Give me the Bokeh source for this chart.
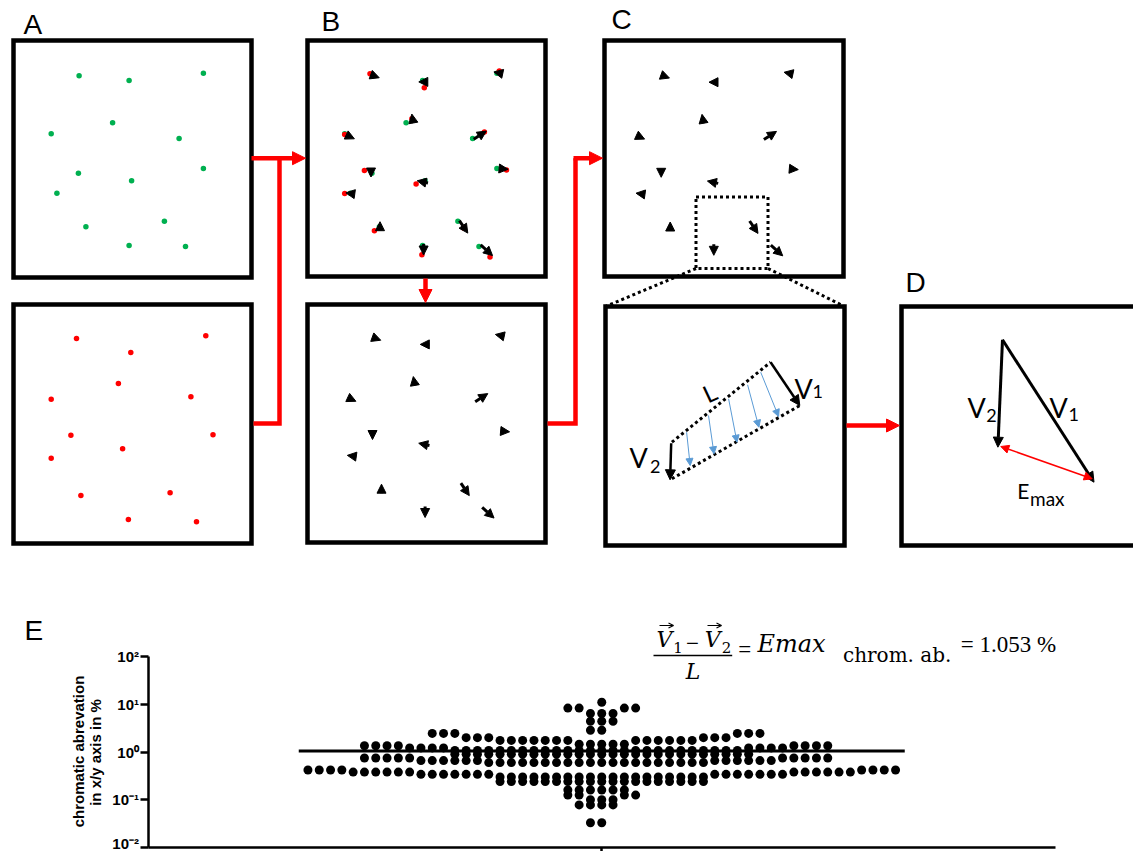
import math
from bokeh.plotting import figure
from bokeh.models import (Range1d, LinearScale, LogScale, Arrow, NormalHead, OpenHead,
                          FixedTicker, CustomJSTickFormatter, ColumnDataSource,
                          LogAxis, LinearAxis)
from bokeh.core.properties import value
from bokeh.embed import file_html
from bokeh.resources import INLINE

# ---------------------------------------------------------------- data
# Panel A (top): green bead positions, px relative to the panel corner
green_x = [66.1, 116.1, 190.4, 99.6, 38.2, 166.1, 65.4, 118.6, 190.4, 43.9, 72.9, 151.4, 116.1, 172.5]
green_y = [36.0, 40.7, 33.4, 83.0, 94.0, 98.7, 133.4, 141.0, 128.7, 153.4, 187.0, 181.4, 205.7, 206.7]
# Panel A (bottom): red bead positions
red_x = [63.5, 192.8, 117.8, 105.4, 38.2, 177.9, 57.9, 200.0, 109.6, 38.2, 67.9, 157.1, 115.4, 183.5]
red_y = [34.0, 31.3, 48.0, 79.0, 94.7, 92.3, 130.7, 130.3, 144.3, 153.7, 191.0, 188.3, 215.0, 217.3]
# displacement vectors (centre, direction in degrees, drawn length; 0 = head only)
arrow_x = [60.7, 109.0, 184.0, 98.3, 36.0, 165.7, 56.7, 189.3, 108.3, 36.0, 65.7, 149.3, 109.3, 172.3]
arrow_y = [36.7, 42.4, 33.4, 79.0, 97.4, 95.7, 133.0, 129.4, 142.4, 154.0, 186.7, 187.4, 210.0, 210.7]
arrow_angle = [-20, 180, 168, 100, -25, 33, -90, -5, 168, 172, 90, -56, -90, -42]
arrow_len = [0, 0, 0, 0, 0, 15, 0, 0, 11, 0, 0, 15, 11, 16]

# zoomed panel: V1, V2 and the vectors along L (image px)
v1_c = [(770.1, 361.7), (799.3, 405.0)]
v2_c = [(670.7, 442.7), (669.6, 479.3)]
edge_top = [(671.4, 441.7), (770.1, 361.7)]
edge_bot = [(671.4, 478.3), (799.3, 405.0)]
blue_x0 = [686.1, 708.0, 728.1, 747.1, 760.2]
blue_y0 = [431.7, 415.0, 398.3, 384.3, 371.7]
blue_x1 = [689.7, 713.5, 736.5, 758.4, 778.1]
blue_y1 = [465.0, 453.3, 441.7, 426.7, 416.0]
# panel D: vector triangle
d_apex = (1002.0, 339.3)
d_v1_end = (1093.5, 481.7)
d_v2_end = (997.4, 446.7)
d_emax = [(1000.3, 446.0), (1091.7, 478.3)]

# panel E: scatter dot plot rows of (value %, count), inner points first
swarm_rows = [
    [(11.0, 1)],
    [(6.4, 3), (8.3, 4)],
    [(4.4, 3)],
    [(2.85, 2)],
    [(1.45, 5), (1.75, 13), (2.0, 6), (2.45, 6)],
    [(1.08, 26), (1.22, 8), (1.35, 8)],
    [(0.90, 27)],
    [(0.60, 20), (0.66, 12), (0.75, 10)],
    [(0.30, 19), (0.34, 14), (0.38, 12), (0.42, 8)],
    [(0.24, 19)],
    [(0.16, 6)],
    [(0.10, 3), (0.125, 4)],
    [(0.078, 4)],
    [(0.033, 2)],
]
mean_value = 1.053
y_ticks = [0.01, 0.1, 1, 10, 100]
y_title = ["chromatic abrevation", "in x/y axis in %"]

# ---------------------------------------------------------------- layout
W, H = 1133, 851
RED = "#FF0000"
GREEN = "#00B050"
BLUE = "#5B9BD5"
HEAD = 9
XPX = (147.5, 1055.0)   # canvas x of the dot-plot x-axis ends (data 0 and 2)
YPX = (656.0, 847.0)    # canvas y of 10^2 and 10^-2
upp = 2.0 / (XPX[1] - XPX[0])
dec = (YPX[1] - YPX[0]) / 4.0

p = figure(width=W, height=H,
           x_range=Range1d(-XPX[0] * upp, 2 + (W - XPX[1]) * upp),
           y_range=Range1d(10 ** (-2 - (H - YPX[1]) / dec), 10 ** (2 + YPX[0] / dec)),
           output_backend="svg", toolbar_location=None,
           x_axis_location=None, y_axis_location=None, min_border=0,
           outline_line_color=None)
p.y_scale = LogScale()
p.grid.visible = False
p.extra_x_ranges = {"img": Range1d(0, W)}
p.extra_y_ranges = {"img": Range1d(H, 0)}
p.extra_x_scales = {"img": LinearScale()}
p.extra_y_scales = {"img": LinearScale()}
IMG = dict(x_range_name="img", y_range_name="img")

boxes = {  # line-centre rectangles: left, top, right, bottom
    "A": (13, 40, 251, 277), "B": (307, 40, 545, 276), "C": (604, 40, 843, 276),
    "A2": (13, 304, 251, 543), "B2": (307, 304, 545, 542), "C2": (605, 306, 844, 545),
    "D": (901, 306, 1170, 545),
}
origin_A = (12.5, 39.3)
origin_A2 = (12.5, 304.0)
origin_Bdots = (306.0, 39.3)
origin_Barrows = (313.8, 39.0)
origin_B2arrows = (315.3, 301.5)
origin_Carrows = (604.0, 39.3)

bl = list(boxes.values())
p.quad(left=[b[0] for b in bl], top=[b[1] for b in bl], right=[b[2] for b in bl],
       bottom=[b[3] for b in bl], fill_color=None, line_color="black", line_width=4.5,
       line_join="miter", **IMG)

# beads
for org, xs, ys, col in [(origin_A, green_x, green_y, GREEN), (origin_A2, red_x, red_y, RED),
                         (origin_Bdots, green_x, green_y, GREEN), (origin_Bdots, red_x, red_y, RED)]:
    p.scatter(x=[org[0] + v for v in xs], y=[org[1] + v for v in ys], size=5.5,
              fill_color=col, line_color=None, **IMG)


def vec_source(ox, oy):
    d = dict(x0=[], y0=[], x1=[], y1=[])
    for cx, cy, ang, ln in zip(arrow_x, arrow_y, arrow_angle, arrow_len):
        L = ln if ln > 0 else HEAD
        dx, dy = math.cos(math.radians(ang)), -math.sin(math.radians(ang))
        d["x0"].append(ox + cx - dx * L / 2)
        d["y0"].append(oy + cy - dy * L / 2)
        d["x1"].append(ox + cx + dx * L / 2)
        d["y1"].append(oy + cy + dy * L / 2)
    return ColumnDataSource(d)


for org in (origin_Barrows, origin_B2arrows, origin_Carrows):
    p.add_layout(Arrow(source=vec_source(*org), x_start="x0", y_start="y0",
                       x_end="x1", y_end="y1", line_color="black", line_width=3,
                       end=NormalHead(size=HEAD, fill_color="black", line_color="black",
                                      line_width=1), **IMG))

# red workflow connectors
p.multi_line(xs=[[253, 279, 279], [547, 575, 575]], ys=[[423, 423, 157.7], [423, 423, 157.7]],
             line_color=RED, line_width=4.5, line_join="miter", **IMG)
for (xa, ya, xb, yb) in [(251, 157.7, 305, 157.7), (425, 278, 425, 302),
                         (573, 157.7, 602, 157.7), (846, 425, 899, 425)]:
    p.add_layout(Arrow(x_start=xa, y_start=ya, x_end=xb, y_end=yb, line_color=RED,
                       line_width=4.5, end=NormalHead(size=13, fill_color=RED,
                                                      line_color=RED, line_width=1), **IMG))

# dotted zoom window
p.quad(left=[695.5], right=[767.5], top=[196.5], bottom=[268.0], fill_color=None,
       line_color="black", line_width=3, line_dash="3 3", **IMG)
p.multi_line(xs=[[695.5, 605], [767.5, 844]], ys=[[268, 306], [268, 306]],
             line_color="black", line_width=3, line_dash="3 3", **IMG)

# zoomed panel: parallelogram and vectors
p.multi_line(xs=[[q[0] for q in edge_top], [q[0] for q in edge_bot]],
             ys=[[q[1] for q in edge_top], [q[1] for q in edge_bot]],
             line_color="black", line_width=3, line_dash="3 3", **IMG)
p.add_layout(Arrow(source=ColumnDataSource(dict(x0=blue_x0, y0=blue_y0, x1=blue_x1, y1=blue_y1)),
                   x_start="x0", y_start="y0", x_end="x1", y_end="y1",
                   line_color=BLUE, line_width=1,
                   end=NormalHead(size=7, fill_color=BLUE, line_color=BLUE, line_width=1), **IMG))
for seg in (v1_c, v2_c):
    p.add_layout(Arrow(x_start=seg[0][0], y_start=seg[0][1], x_end=seg[1][0], y_end=seg[1][1],
                       line_color="black", line_width=2.5,
                       end=NormalHead(size=10, fill_color="black", line_color="black"), **IMG))

# panel D
for end in (d_v1_end, d_v2_end):
    p.add_layout(Arrow(x_start=d_apex[0], y_start=d_apex[1], x_end=end[0], y_end=end[1],
                       line_color="black", line_width=3,
                       end=NormalHead(size=10, fill_color="black", line_color="black"), **IMG))
p.add_layout(Arrow(x_start=d_emax[0][0], y_start=d_emax[0][1], x_end=d_emax[1][0],
                   y_end=d_emax[1][1], line_color=RED, line_width=1.5,
                   start=NormalHead(size=8, fill_color=RED, line_color=RED),
                   end=NormalHead(size=8, fill_color=RED, line_color=RED), **IMG))

# half (ascent - descent) of each font, in em: baseline offset from a "middle" anchor
MID = {"Liberation Sans": 0.347, "Lato": 0.387, "DejaVu Serif": 0.346, "Liberation Serif": 0.338}


def txt(x, y, s, font, size, align="left", style="normal", angle=0.0, centred=False):
    """y is the text baseline unless centred=True."""
    ym = y if centred else y - MID[font] * size
    p.text(x=[x], y=[ym], text=[s], angle=[angle], text_font=value(font),
           text_font_size=f"{size}px", text_font_style=value(style), text_color="black",
           text_align=align, text_baseline="middle", **IMG)


# panel letters
for s, x, y in [("A", 23, 34), ("B", 321, 31), ("C", 611, 29), ("D", 905, 292), ("E", 24, 640)]:
    txt(x, y, s, "Liberation Sans", 28)
# vector labels
for x, y in [(794, 398), (629, 467), (967, 417), (1049, 417)]:
    txt(x, y, "V", "Lato", 27)
for s, x, y in [("1", 812, 398), ("2", 649.5, 473), ("2", 985.7, 421.7), ("1", 1067.9, 420.7)]:
    txt(x, y, s, "Lato", 18)
txt(709, 392, "L", "Lato", 24, align="center", angle=math.radians(25), centred=True)
txt(1016.8, 498.5, "E", "Lato", 21)
txt(1029.5, 505, "max", "Lato", 19)

# ---------------------------------------------------------------- panel E axes
yax = LogAxis(fixed_location=0.0, bounds=(0.01, 100),
              ticker=FixedTicker(ticks=y_ticks, minor_ticks=[]))
yax.formatter = CustomJSTickFormatter(code="""
const sup = {"-": "\u207b", "0": "\u2070", "1": "\u00b9", "2": "\u00b2", "3": "\u00b3",
             "4": "\u2074", "5": "\u2075", "6": "\u2076", "7": "\u2077", "8": "\u2078", "9": "\u2079"};
const e = Math.round(Math.log10(tick));
return "10" + String(e).split("").map(c => sup[c]).join("");
""")
yax.major_label_text_font = "Liberation Sans"
yax.major_label_text_font_style = "bold"
yax.major_label_text_font_size = "15px"
yax.major_label_text_color = "black"
yax.major_label_standoff = 1
yax.major_tick_out = 8
yax.major_tick_in = 0
yax.major_tick_line_width = 2.5
yax.axis_line_width = 2.5
yax.axis_line_color = "black"
yax.major_tick_line_color = "black"
p.add_layout(yax, "left")

xax = LinearAxis(fixed_location=0.01, bounds=(0, 2),
                 ticker=FixedTicker(ticks=[1.0], minor_ticks=[]))
xax.major_label_overrides = {1.0: ""}
xax.major_label_standoff = 0
xax.major_tick_out = 6
xax.major_tick_in = 0
xax.major_tick_line_width = 2.5
xax.axis_line_width = 2.5
xax.axis_line_color = "black"
xax.major_tick_line_color = "black"
p.add_layout(xax, "below")

# dot plot
SLOT_PX = 11.3
MEAN_HALF_PX = 303
sx, sy = [], []
for row in swarm_rows:
    vals = [v for v, n in row for _ in range(n)]
    for k, v in enumerate(vals):
        slot = 0 if k == 0 else ((k + 1) // 2) * (-1 if k % 2 == 1 else 1)
        sx.append(1.0 + slot * SLOT_PX * upp)
        sy.append(v)
p.scatter(x=sx, y=sy, size=9, fill_color="black", line_color=None)
p.segment(x0=[1.0 - MEAN_HALF_PX * upp], x1=[1.0 + MEAN_HALF_PX * upp],
          y0=[mean_value], y1=[mean_value], line_color="black", line_width=3)

# y-axis title
txt(78, 751, y_title[0], "Liberation Sans", 15, align="center", style="bold",
    angle=math.pi / 2, centred=True)
txt(95, 752, y_title[1], "Liberation Sans", 15, align="center", style="bold",
    angle=math.pi / 2, centred=True)

# equation
SER = "DejaVu Serif"
LSER = "Liberation Serif"
txt(664, 647, "V", SER, 22, align="center", style="italic")
txt(677.5, 652, "1", SER, 15, align="center")
txt(692, 651, "\u2212", LSER, 23, align="center")
txt(712.3, 647, "V", SER, 22, align="center", style="italic")
txt(726, 652, "2", SER, 15, align="center")
for xa in (659, 707):
    p.add_layout(Arrow(x_start=xa, y_start=625, x_end=xa + 14, y_end=625, line_width=1.2,
                       line_color="black",
                       end=OpenHead(size=5, line_width=1.2, line_color="black"), **IMG))
p.segment(x0=[653], x1=[731.7], y0=[655], y1=[655], line_color="black", line_width=1.5, **IMG)
txt(692.5, 678.3, "L", SER, 22, align="center", style="italic")
txt(744.2, 657, "=", LSER, 23, align="center")
txt(757, 652, "Emax", SER, 24, align="left", style="italic")
txt(896.7, 661.7, "chrom. ab.", SER, 20, align="center")
txt(1008, 652, "= 1.053 %", LSER, 23, align="center")

open("out.html", "w", encoding="utf-8").write(file_html(p, INLINE))
